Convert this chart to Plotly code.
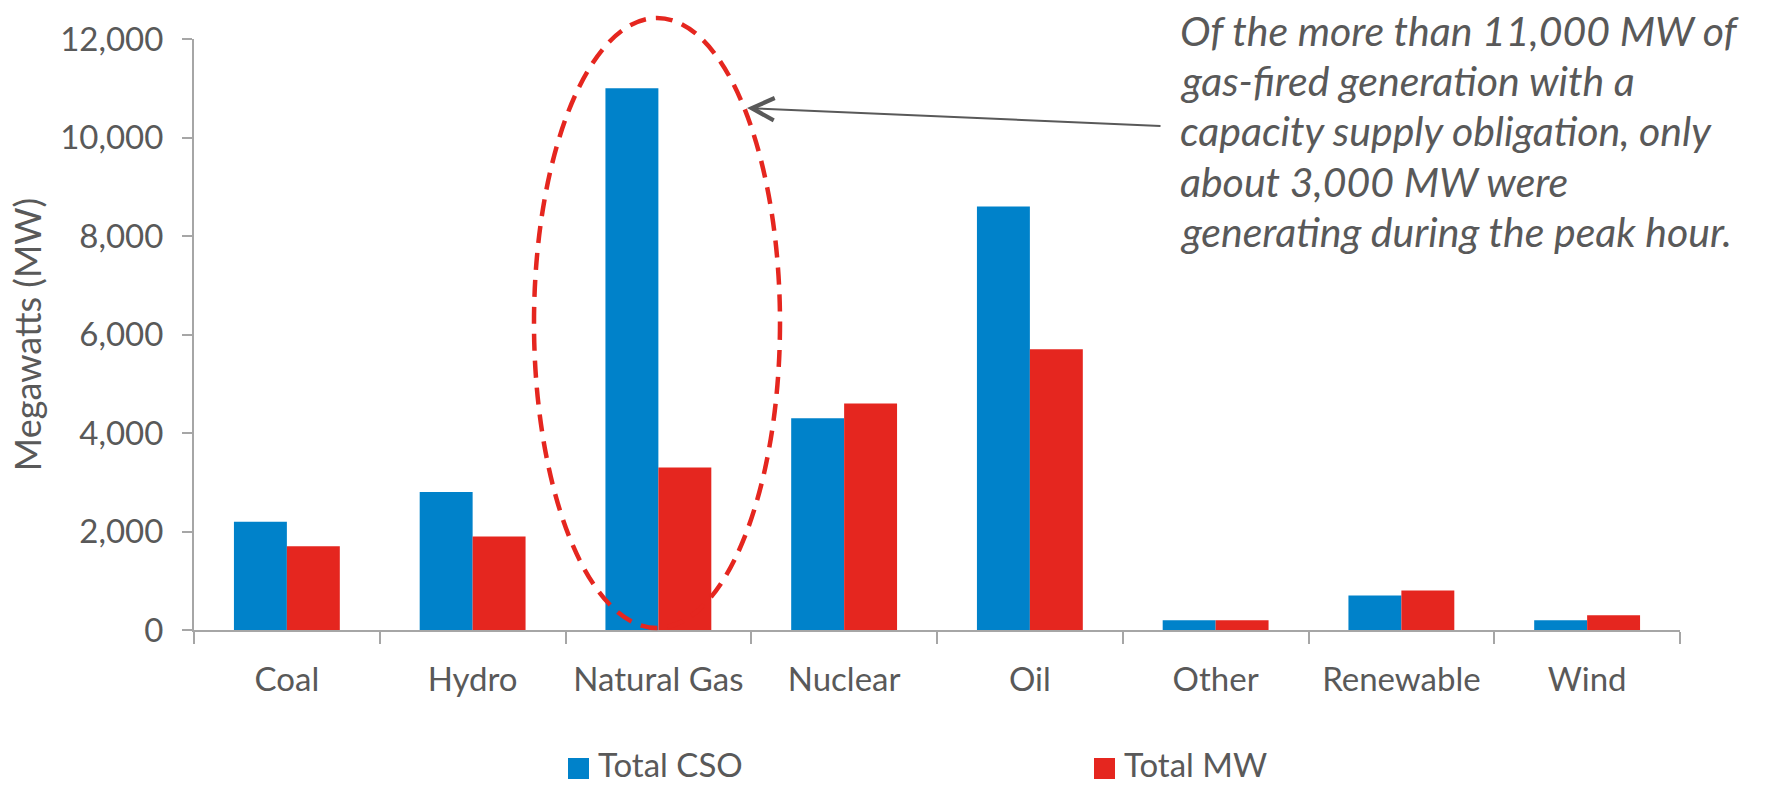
import plotly.graph_objects as go

# ---- data ----
categories = ["Coal", "Hydro", "Natural Gas", "Nuclear", "Oil", "Other", "Renewable", "Wind"]
total_cso = [2200, 2800, 11000, 4300, 8600, 200, 700, 200]
total_mw = [1700, 1900, 3300, 4600, 5700, 200, 800, 300]
series_names = ["Total CSO", "Total MW"]
y_tick_values = [0, 2000, 4000, 6000, 8000, 10000, 12000]
y_tick_labels = ["0", "2,000", "4,000", "6,000", "8,000", "10,000", "12,000"]
y_title = "Megawatts (MW)"
callout_lines = [
    "Of the more than 11,000 MW of",
    "gas-fired generation with a",
    "capacity supply obligation, only",
    "about 3,000 MW were",
    "generating during the peak hour.",
]

# ---- style ----
BLUE = "#0082CA"
RED = "#E5261F"
TEXT = "#595959"
AXIS = "#A6A6A6"
FONT = "Lato"

W, H = 1767, 785
L, R, T, B = 194, 87, 39, 155
PW, PH = W - L - R, H - T - B


def fx(px):
    return (px - L) / PW


def fy(py):
    return (H - B - py) / PH


fig = go.Figure()
fig.add_trace(go.Bar(x=categories, y=total_cso, name=series_names[0],
                     marker=dict(color=BLUE, line=dict(width=0)), showlegend=False))
fig.add_trace(go.Bar(x=categories, y=total_mw, name=series_names[1],
                     marker=dict(color=RED, line=dict(width=0)), showlegend=False))

shapes = [
    # dashed ellipse around Natural Gas
    dict(type="circle", xref="paper", yref="paper",
         x0=fx(534), x1=fx(780), y0=fy(628), y1=fy(18),
         line=dict(color="#E5261F", width=4.5, dash="17px,10px"), layer="above"),
    # legend swatches
    dict(type="rect", xref="paper", yref="paper",
         x0=fx(568), x1=fx(589), y0=fy(779), y1=fy(758),
         fillcolor=BLUE, line=dict(width=0)),
    dict(type="rect", xref="paper", yref="paper",
         x0=fx(1094), x1=fx(1115), y0=fy(779), y1=fy(758),
         fillcolor=RED, line=dict(width=0)),
]

annotations = []
line_centers = [30.5, 80.7, 130.9, 181.1, 231.3]
for txt, yc in zip(callout_lines, line_centers):
    annotations.append(dict(
        text=txt, xref="paper", yref="paper", x=fx(1178), y=fy(yc),
        xanchor="left", yanchor="middle", align="left", showarrow=False,
        font=dict(family=FONT, size=41, color=TEXT, style="italic")))

annotations += [
    dict(text="", xref="paper", yref="paper", x=fx(747), y=fy(108),
         ax=1162 - 747, ay=126 - 108, showarrow=True, arrowhead=5,
         arrowsize=2.2, arrowwidth=2, arrowcolor=TEXT),
    dict(text=series_names[0], xref="paper", yref="paper", x=fx(596), y=fy(764),
         xanchor="left", yanchor="middle", showarrow=False,
         font=dict(family=FONT, size=33, color=TEXT)),
    dict(text=series_names[1], xref="paper", yref="paper", x=fx(1122), y=fy(764),
         xanchor="left", yanchor="middle", showarrow=False,
         font=dict(family=FONT, size=33, color=TEXT)),
]

fig.update_layout(
    width=W, height=H,
    margin=dict(l=L, r=R, t=T, b=B, pad=0),
    template="none",
    paper_bgcolor="white", plot_bgcolor="white",
    barmode="group", bargap=0.43, bargroupgap=0,
    font=dict(family=FONT, color=TEXT),
    shapes=shapes, annotations=annotations,
    showlegend=False,
)
fig.update_xaxes(
    type="category", tickson="boundaries", ticks="outside", ticklen=12,
    tickwidth=2, tickcolor=AXIS, showline=True, linecolor=AXIS, linewidth=2,
    showgrid=False, zeroline=False, automargin=False,
    tickfont=dict(family=FONT, size=33, color=TEXT), ticklabelstandoff=19,
)
fig.update_yaxes(
    range=[0, 12000], tickvals=y_tick_values, ticktext=y_tick_labels,
    ticks="outside", ticklen=10, tickwidth=2, tickcolor=AXIS,
    showline=True, linecolor=AXIS, linewidth=2, showgrid=False, zeroline=False,
    automargin=False, tickfont=dict(family=FONT, size=33, color=TEXT),
    ticklabelstandoff=12,
    title=dict(text=y_title, font=dict(family=FONT, size=36, color=TEXT), standoff=8),
)

fig.write_html("out.html", config={"displayModeBar": False},
               post_script="document.body.style.margin='0';document.body.style.overflow='hidden';")
